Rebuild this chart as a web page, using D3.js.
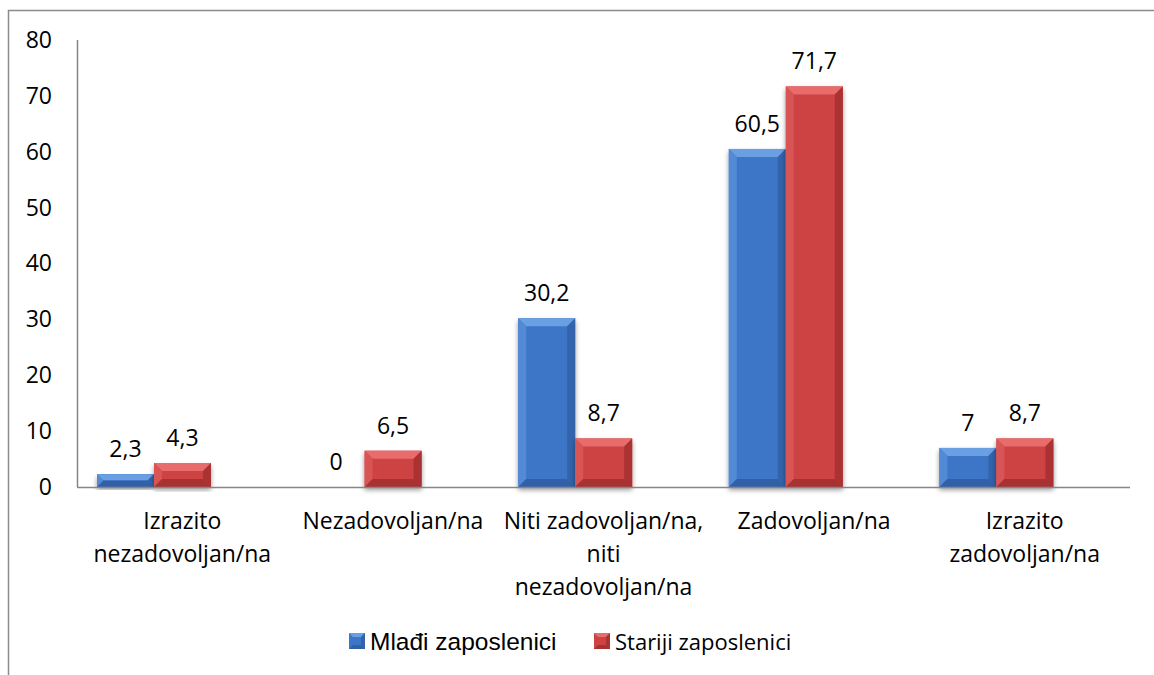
<!DOCTYPE html>
<html>
<head>
<meta charset="utf-8">
<script src="https://cdn.jsdelivr.net/npm/d3@7"></script>
<style>
  body { margin: 0; background: #fff; }
  svg { display: block; font-family: "Open Sans", sans-serif; }
</style>
</head>
<body>
<div id="chart"></div>
<script>
// data
var categories = ["Izrazito nezadovoljan/na", "Nezadovoljan/na", "Niti zadovoljan/na, niti nezadovoljan/na", "Zadovoljan/na", "Izrazito zadovoljan/na"];
var categoryLines = [
    ["Izrazito", "nezadovoljan/na"],
    ["Nezadovoljan/na"],
    ["Niti zadovoljan/na,", "niti", "nezadovoljan/na"],
    ["Zadovoljan/na"],
    ["Izrazito", "zadovoljan/na"]
];
var seriesNames = ["Mlađi zaposlenici", "Stariji zaposlenici"];
var mladi = [2.3, 0, 30.2, 60.5, 7];
var stariji = [4.3, 6.5, 8.7, 71.7, 8.7];
var yTicks = [0, 10, 20, 30, 40, 50, 60, 70, 80];

var width = 1154, height = 675;
var margin = {top: 40, right: 24, bottom: 188, left: 77};

var palette = [
    {body: "#3d76c6", top: "#6a9fe4", left: "#528ad6", right: "#3363ab", bottom: "#3261a8"},
    {body: "#cd4242", top: "#e86c6c", left: "#d95454", right: "#ab3232", bottom: "#a83030"}
];

var svg = d3.select("#chart").append("svg")
    .attr("width", width)
    .attr("height", height);

// outer frame
svg.append("rect")
    .attr("x", 8.5).attr("y", 10.5)
    .attr("width", width + 20).attr("height", height + 20)
    .attr("fill", "none")
    .attr("stroke", "#8c8c8c")
    .attr("stroke-width", 1.5);

var x0 = d3.scaleBand()
    .domain(categories)
    .range([margin.left, width - margin.right]);

// bars sit toward the left side of each band
var x1 = d3.scaleBand()
    .domain([0, 1])
    .range([20, 134]);

var y = d3.scaleLinear()
    .domain([0, 80])
    .range([height - margin.bottom, margin.top]);

var defs = svg.append("defs");
var shadow = defs.append("filter").attr("id", "shadow")
    .attr("x", "-20%").attr("y", "-10%").attr("width", "140%").attr("height", "130%");
shadow.append("feGaussianBlur").attr("in", "SourceAlpha").attr("stdDeviation", 2.5);
shadow.append("feOffset").attr("dx", 0).attr("dy", 3).attr("result", "blur");
shadow.append("feComponentTransfer").append("feFuncA").attr("type", "linear").attr("slope", 0.4);
var merge = shadow.append("feMerge");
merge.append("feMergeNode");
merge.append("feMergeNode").attr("in", "SourceGraphic");

// y axis labels
var yAxis = svg.append("g")
    .attr("transform", "translate(52,0)")
    .call(d3.axisLeft(y).tickValues(yTicks).tickSize(0).tickPadding(0));
yAxis.select(".domain").remove();
yAxis.selectAll("text")
    .attr("font-size", 23)
    .attr("font-family", "Open Sans, sans-serif")
    .attr("fill", "#000");

// axis lines
svg.append("line")
    .attr("x1", margin.left + 0.5).attr("x2", margin.left + 0.5)
    .attr("y1", y(80)).attr("y2", y(0))
    .attr("stroke", "#868686").attr("stroke-width", 1.5);

// bars
var data = [];
categories.forEach(function(c, i) {
    data.push({cat: c, s: 0, v: mladi[i]});
    data.push({cat: c, s: 1, v: stariji[i]});
});

var bars = svg.append("g").selectAll("g.bar")
    .data(data.filter(function(d) { return d.v > 0; }))
    .enter().append("g")
    .attr("class", "bar")
    .attr("filter", "url(#shadow)");

bars.each(function(d) {
    var g = d3.select(this);
    var bx = x0(d.cat) + x1(d.s), bw = x1.bandwidth();
    var by = y(d.v), bh = y(0) - y(d.v);
    var c = palette[d.s];
    var b = Math.min(8, bh / 2, bw / 2);
    g.append("rect")
        .attr("x", bx).attr("y", by).attr("width", bw).attr("height", bh)
        .attr("fill", c.body);
    var x2 = bx + bw, y2 = by + bh;
    g.append("polygon").attr("fill", c.top)
        .attr("points", [[bx, by], [x2, by], [x2 - b, by + b], [bx + b, by + b]].join(" "));
    g.append("polygon").attr("fill", c.left)
        .attr("points", [[bx, by], [bx + b, by + b], [bx + b, y2 - b], [bx, y2]].join(" "));
    g.append("polygon").attr("fill", c.right)
        .attr("points", [[x2, by], [x2, y2], [x2 - b, y2 - b], [x2 - b, by + b]].join(" "));
    g.append("polygon").attr("fill", c.bottom)
        .attr("points", [[bx, y2], [x2, y2], [x2 - b, y2 - b], [bx + b, y2 - b]].join(" "));
});

svg.append("line")
    .attr("x1", margin.left).attr("x2", width - margin.right)
    .attr("y1", y(0) + 0.5).attr("y2", y(0) + 0.5)
    .attr("stroke", "#868686").attr("stroke-width", 1.5);

// value labels
svg.append("g").selectAll("text")
    .data(data)
    .enter().append("text")
    .attr("x", function(d) { return x0(d.cat) + x1(d.s) + x1.bandwidth() / 2; })
    .attr("y", function(d) { return y(d.v) - 17; })
    .attr("text-anchor", "middle")
    .attr("font-size", 23)
    .text(function(d) { return String(d.v).replace(".", ","); });

// category labels
var catLabels = svg.append("g").selectAll("text")
    .data(categories)
    .enter().append("text")
    .attr("x", function(d) { return x0(d) + x0.bandwidth() / 2; })
    .attr("y", 529)
    .attr("text-anchor", "middle")
    .attr("font-size", 23);
catLabels.selectAll("tspan")
    .data(function(d, i) { return categoryLines[i]; })
    .enter().append("tspan")
    .attr("x", function() { return d3.select(this.parentNode).attr("x"); })
    .attr("dy", function(d, i) { return i === 0 ? 0 : 33; })
    .text(function(d) { return d; });

// legend
var legendX = [349, 594];
var legend = svg.append("g").selectAll("g")
    .data(seriesNames)
    .enter().append("g")
    .attr("transform", function(d, i) { return "translate(" + legendX[i] + ",633)"; });
legend.each(function(d, i) {
    var g = d3.select(this), c = palette[i], s = 16, b = 4;
    g.append("rect").attr("width", s).attr("height", s).attr("fill", c.body);
    g.append("polygon").attr("fill", c.top).attr("points", [[0, 0], [s, 0], [s - b, b], [b, b]].join(" "));
    g.append("polygon").attr("fill", c.right).attr("points", [[s, 0], [s, s], [s - b, s - b], [s - b, b]].join(" "));
    g.append("polygon").attr("fill", c.bottom).attr("points", [[0, s], [s, s], [s - b, s - b], [b, s - b]].join(" "));
});
legend.append("text")
    .attr("x", 21)
    .attr("y", 17)
    .attr("font-size", function(d, i) { return i === 0 ? 24.5 : 22; })
    .attr("font-family", function(d, i) { return i === 0 ? "Liberation Sans, Arial, sans-serif" : "Open Sans, sans-serif"; })
    .text(function(d) { return d; });
</script>
</body>
</html>
